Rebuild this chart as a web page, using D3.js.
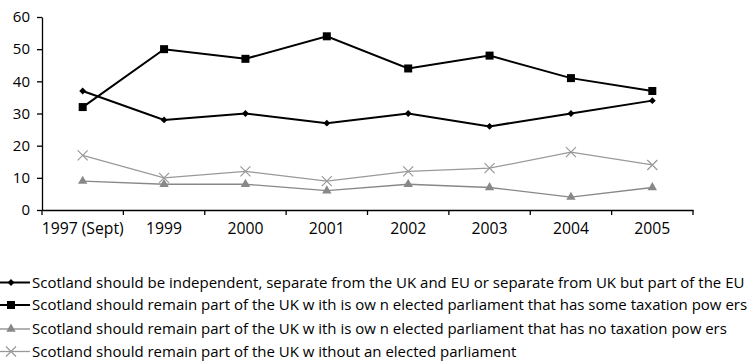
<!DOCTYPE html>
<html><head><meta charset="utf-8">
<script src="https://cdn.jsdelivr.net/npm/d3@7/dist/d3.min.js"></script>
<style>body{margin:0;background:#fff}svg{display:block}text{font-family:"Open Sans",sans-serif}</style>
</head><body><svg id="c" width="750" height="363"></svg>
<script>
const categories = ["1997 (Sept)","1999","2000","2001","2002","2003","2004","2005"];
const independent = [37,28,30,27,30,26,30,34];
const taxParliament = [32,50,47,54,44,48,41,37];
const noTaxParliament = [9,8,8,6,8,7,4,7];
const noParliament = [17,10,12,9,12,13,18,14];
const yTicks = [0,10,20,30,40,50,60];
const seriesNames = [
 "Scotland should be independent, separate from the UK and EU or separate from UK but part of the EU",
 "Scotland should remain part of the UK w ith is ow n elected parliament that has some taxation pow ers",
 "Scotland should remain part of the UK w ith is ow n elected parliament that has no taxation pow ers",
 "Scotland should remain part of the UK w ithout an elected parliament"
];
const series = [
 {name:seriesNames[0], values:independent, color:"#000", width:2, marker:"diamond"},
 {name:seriesNames[1], values:taxParliament, color:"#000", width:2, marker:"square"},
 {name:seriesNames[2], values:noTaxParliament, color:"#888", width:1.3, marker:"triangle"},
 {name:seriesNames[3], values:noParliament, color:"#999", width:1.3, marker:"cross"}
];
const svg = d3.select("#c");
const x = d3.scaleBand().domain(categories).range([42,693]);
const y = d3.scaleLinear().domain([0,60]).range([210,17]);

const yAxis = svg.append("g").attr("transform","translate(42,0)")
 .call(d3.axisLeft(y).tickValues(yTicks).tickSize(5).tickSizeOuter(0));
yAxis.select(".domain").attr("stroke","#000").attr("stroke-width",1.3);
yAxis.selectAll(".tick line").attr("stroke","#000").attr("stroke-width",1.3);
yAxis.selectAll("text").attr("font-size",15).attr("fill","#000").attr("x",-12).attr("text-anchor","end");

const xAxis = svg.append("g").attr("transform","translate(0,210)")
 .call(d3.axisBottom(x).tickSize(0).tickSizeOuter(0));
xAxis.select(".domain").attr("stroke","#000").attr("stroke-width",1.3);
const xt = xAxis.selectAll("text").attr("font-size",15).attr("fill","#000").attr("y",13).attr("dy","0.71em");
// fit axis label size so "1997 (Sept)" is about 82px wide
const firstW = xt.nodes()[0].getComputedTextLength();
xt.attr("font-size", 15*82/firstW);
const bounds = categories.map(c=>x(c)).concat([x.range()[1]]);
svg.append("g").selectAll("line").data(bounds).join("line")
 .attr("x1",d=>d).attr("x2",d=>d).attr("y1",210).attr("y2",215)
 .attr("stroke","#000").attr("stroke-width",1.3);

const cx = c => x(c) + x.bandwidth()/2;
function drawMarker(g, type, color, px, py){
 if(type==="diamond"){
  g.append("path").attr("d",d3.symbol(d3.symbolDiamond2,30)()).attr("transform",`translate(${px},${py})`).attr("fill",color);
 } else if(type==="square"){
  g.append("rect").attr("x",px-4).attr("y",py-4).attr("width",8).attr("height",8).attr("fill",color);
 } else if(type==="triangle"){
  g.append("path").attr("d",d3.symbol(d3.symbolTriangle,38)()).attr("transform",`translate(${px},${py})`).attr("fill",color);
 } else {
  g.append("path").attr("d",`M${px-5},${py-5}L${px+5},${py+5}M${px-5},${py+5}L${px+5},${py-5}`).attr("stroke",color).attr("stroke-width",1.2).attr("fill","none");
 }
}
const line = d3.line().x((d,i)=>cx(categories[i])).y(d=>y(d));
series.forEach(s=>{
 const g = svg.append("g");
 g.append("path").datum(s.values).attr("d",line).attr("fill","none").attr("stroke",s.color).attr("stroke-width",s.width);
 s.values.forEach((v,i)=>drawMarker(g,s.marker,s.color,cx(categories[i]),y(v)));
});

const rowY = [282.5, 305, 329, 351.5];
const legTexts = [];
series.forEach((s,i)=>{
 const ly = rowY[i];
 const g = svg.append("g");
 g.append("line").attr("x1",0).attr("x2",30).attr("y1",ly).attr("y2",ly).attr("stroke",s.color).attr("stroke-width",s.width);
 drawMarker(g,s.marker,s.color,11,ly);
 legTexts.push(g.append("text").attr("x",32).attr("y",ly).attr("dy","0.35em").attr("font-size",14).attr("fill","#000").text(s.name));
});
// fit legend size so first row spans to about x=745
const w0 = legTexts[0].node().getComputedTextLength();
const fs = 14*713/w0;
legTexts.forEach(t=>t.attr("font-size",fs));
</script></body></html>
